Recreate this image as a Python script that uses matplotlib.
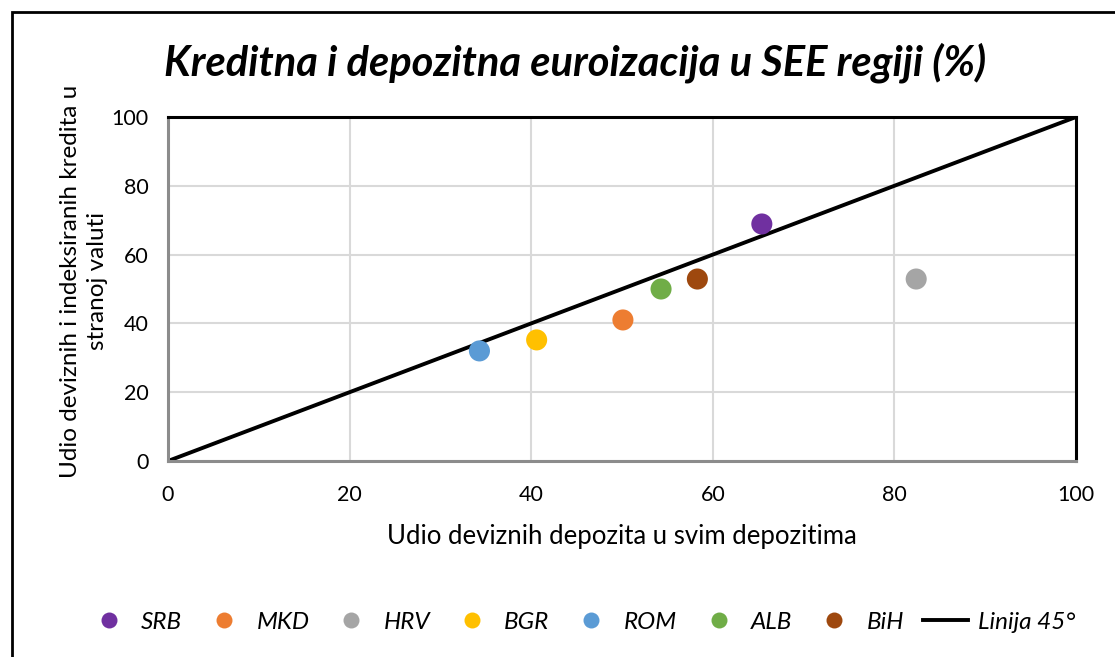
import matplotlib
matplotlib.use("Agg")
import matplotlib.pyplot as plt
from matplotlib.lines import Line2D
from matplotlib.patches import Rectangle

countries = ["SRB", "MKD", "HRV", "BGR", "ROM", "ALB", "BiH"]
deposits = [65.4, 50.1, 82.4, 40.6, 34.3, 54.3, 58.3]
loans = [68.9, 41.0, 52.9, 35.2, 32.0, 50.0, 52.9]
colors = ["#7030A0", "#ED7D31", "#A5A5A5", "#FFC000", "#5B9BD5", "#70AD47", "#9E480E"]
line45_x = [0, 100]
line45_y = [0, 100]
ticks = [0, 20, 40, 60, 80, 100]

plt.rcParams['font.family'] = ['Lato', 'DejaVu Sans']

fig = plt.figure(figsize=(11.15, 6.57), dpi=100)
ax = fig.add_axes([168/1115, 1-461/657, (1076-168)/1115, (461-117)/657])

ax.plot(line45_x, line45_y, color="black", lw=2.8, zorder=2, solid_capstyle='butt')
handles = []
for c, x, y, col in zip(countries, deposits, loans, colors):
    ax.scatter([x], [y], s=230, color=col, zorder=3, edgecolors='none')
    handles.append(Line2D([], [], marker='o', ls='none', markersize=11.5,
                          markerfacecolor=col, markeredgecolor='none', label=c))
handles.append(Line2D([], [], color='black', lw=2.8, label='Linija 45°'))

ax.set_xlim(0, 100)
ax.set_ylim(0, 100)
ax.set_xticks(ticks)
ax.set_yticks(ticks)
ax.tick_params(length=0, labelsize=15.5)
ax.tick_params(axis='x', pad=17)
ax.tick_params(axis='y', pad=14)
ax.grid(True, color="#D9D9D9", lw=1.5)
ax.set_axisbelow(True)
for side in ["top", "right"]:
    ax.spines[side].set_linewidth(2.2)
    ax.spines[side].set_color("black")
for side in ["left", "bottom"]:
    ax.spines[side].set_linewidth(2.2)
    ax.spines[side].set_color("#8C8C8C")

ax.set_xlabel("Udio deviznih depozita u svim depozitima", fontsize=18.5, labelpad=14)

fig.text(84/1115, 1 - 281/657, "Udio deviznih i indeksiranih kredita u\nstranoj valuti",
         fontsize=17.5, rotation=90, ha='center', va='center', multialignment='center',
         linespacing=1.35)

fig.text(0.516, 0.905, "Kreditna i depozitna euroizacija u SEE regiji (%)",
         fontsize=30, fontweight='bold', fontstyle='italic', ha='center', va='center')

leg = fig.legend(handles=handles, loc='center', bbox_to_anchor=(0.521, 0.053), ncol=8,
                 frameon=False, prop={'size': 17.5, 'style': 'italic'},
                 handlelength=1.85, columnspacing=0.8, handletextpad=0.4)

fig.patches.append(Rectangle((12/1115, -0.1), 1.2, 1 - 12/657 + 0.1,
                             transform=fig.transFigure, fill=False,
                             edgecolor='black', lw=2, figure=fig))

fig.savefig("out.png", dpi=100)
